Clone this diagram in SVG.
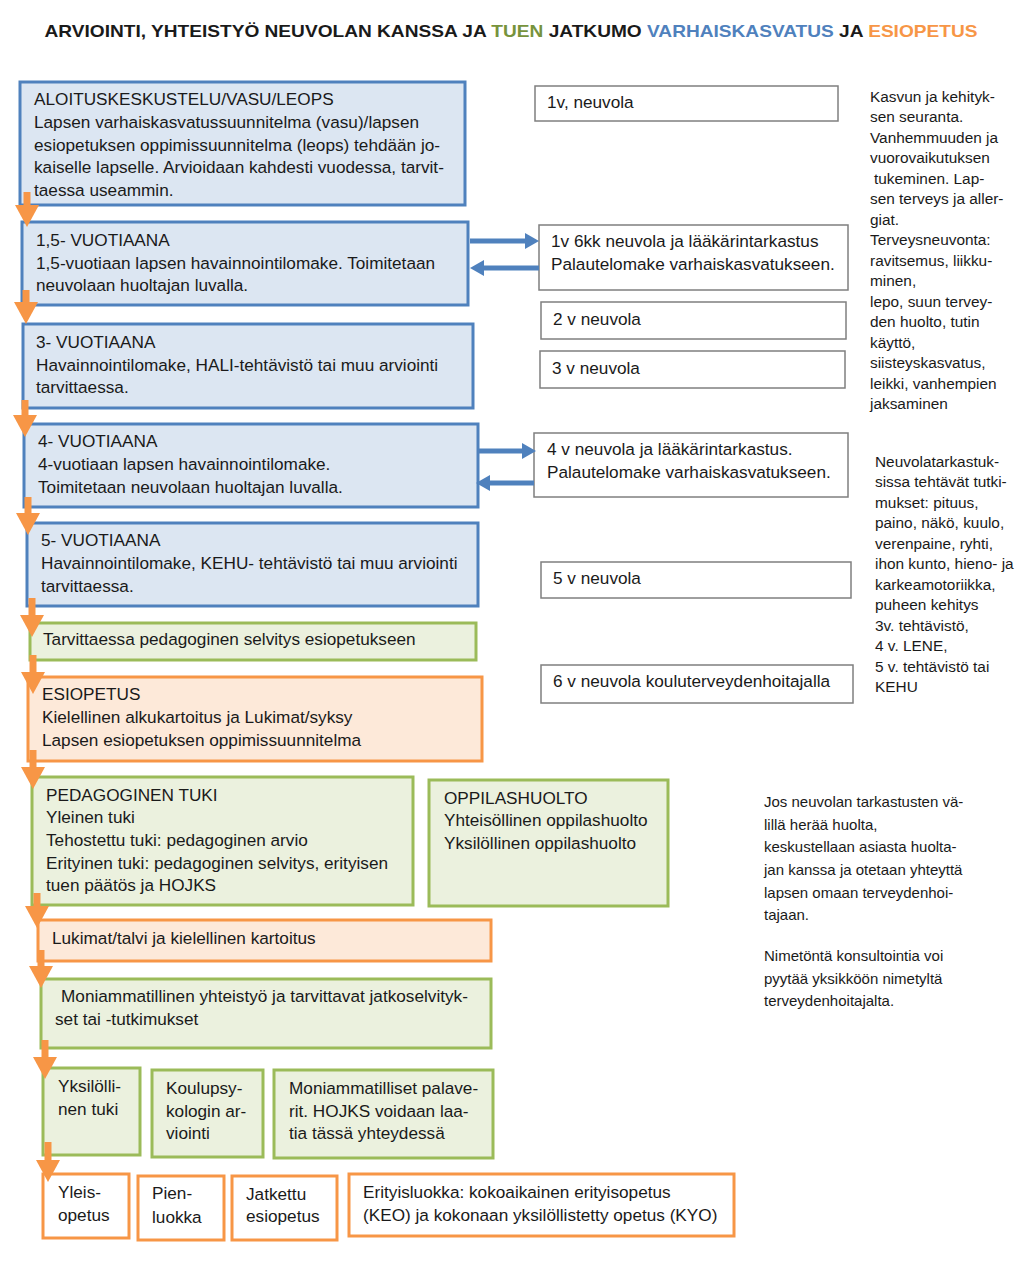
<svg xmlns="http://www.w3.org/2000/svg" width="1024" height="1280" viewBox="0 0 1024 1280">
<style>
text{font-family:"Liberation Sans",Arial,sans-serif;fill:#1a1a1a}
.t{font-size:17.2px}
.s{font-size:15.4px}
.m{font-size:15px}
.blue{fill:#dce6f2;stroke:#4f81bd;stroke-width:3}
.green{fill:#ebf1de;stroke:#9bbb59;stroke-width:3}
.orange{fill:#fde9d9;stroke:#f79646;stroke-width:3}
.orw{fill:#fff;stroke:#f79646;stroke-width:3}
.gray{fill:#fff;stroke:#7f7f7f;stroke-width:1.5}
.oa{stroke:#f79646;stroke-width:7;fill:none}
.ba{stroke:#4f81bd;stroke-width:5;fill:none}
</style>
<defs>
<marker id="oh" viewBox="0 0 22 24" refX="0" refY="12" markerWidth="22" markerHeight="24" markerUnits="userSpaceOnUse" orient="auto"><path d="M0,0 L22,12 L0,24 z" fill="#f79646"/></marker>
<marker id="bh" viewBox="0 0 14 16" refX="0" refY="8" markerWidth="14" markerHeight="16" markerUnits="userSpaceOnUse" orient="auto"><path d="M0,0 L14,8 L0,16 z" fill="#4f81bd"/></marker>
</defs>
<rect width="1024" height="1280" fill="#fff"/>
<text x="511" y="37" text-anchor="middle" font-size="17" font-weight="bold" textLength="933" lengthAdjust="spacingAndGlyphs">ARVIOINTI, YHTEISTYÖ NEUVOLAN KANSSA JA <tspan fill="#77933c">TUEN</tspan> JATKUMO <tspan fill="#4f81bd">VARHAISKASVATUS</tspan> JA <tspan fill="#f79646">ESIOPETUS</tspan></text>

<g id="n-aloitus"><rect class="blue" x="20" y="82" width="445" height="123"/>
<text class="t" x="34"><tspan x="34" y="105">ALOITUSKESKUSTELU/VASU/LEOPS</tspan><tspan x="34" y="128">Lapsen varhaiskasvatussuunnitelma (vasu)/lapsen</tspan><tspan x="34" y="151">esiopetuksen oppimissuunnitelma (leops) tehdään jo-</tspan><tspan x="34" y="173">kaiselle lapselle. Arvioidaan kahdesti vuodessa, tarvit-</tspan><tspan x="34" y="196">taessa useammin.</tspan></text></g>
<g id="n-15v"><rect class="blue" x="22" y="222" width="446" height="83"/>
<text class="t"><tspan x="36" y="246">1,5- VUOTIAANA</tspan><tspan x="36" y="269">1,5-vuotiaan lapsen havainnointilomake. Toimitetaan</tspan><tspan x="36" y="291">neuvolaan huoltajan luvalla.</tspan></text></g>
<g id="n-3v"><rect class="blue" x="23" y="324" width="450" height="84"/>
<text class="t"><tspan x="36" y="348">3- VUOTIAANA</tspan><tspan x="36" y="371">Havainnointilomake, HALI-tehtävistö tai muu arviointi</tspan><tspan x="36" y="393">tarvittaessa.</tspan></text></g>
<g id="n-4v"><rect class="blue" x="24" y="424" width="454" height="83"/>
<text class="t"><tspan x="38" y="447">4- VUOTIAANA</tspan><tspan x="38" y="470">4-vuotiaan lapsen havainnointilomake.</tspan><tspan x="38" y="493">Toimitetaan neuvolaan huoltajan luvalla.</tspan></text></g>
<g id="n-5v"><rect class="blue" x="27" y="523" width="451" height="83"/>
<text class="t"><tspan x="41" y="546">5- VUOTIAANA</tspan><tspan x="41" y="569">Havainnointilomake, KEHU- tehtävistö tai muu arviointi</tspan><tspan x="41" y="592">tarvittaessa.</tspan></text></g>
<g id="n-tarv"><rect class="green" x="30" y="623" width="446" height="37"/>
<text class="t" x="43" y="645">Tarvittaessa pedagoginen selvitys esiopetukseen</text></g>
<g id="n-esiop"><rect class="orange" x="28" y="677" width="454" height="84"/>
<text class="t"><tspan x="42" y="700">ESIOPETUS</tspan><tspan x="42" y="723">Kielellinen alkukartoitus ja Lukimat/syksy</tspan><tspan x="42" y="746">Lapsen esiopetuksen oppimissuunnitelma</tspan></text></g>
<g id="n-pedtuki"><rect class="green" x="32" y="777" width="381" height="128"/>
<text class="t"><tspan x="46" y="801">PEDAGOGINEN TUKI</tspan><tspan x="46" y="823">Yleinen tuki</tspan><tspan x="46" y="846">Tehostettu tuki: pedagoginen arvio</tspan><tspan x="46" y="869">Erityinen tuki: pedagoginen selvitys, erityisen</tspan><tspan x="46" y="891">tuen päätös ja HOJKS</tspan></text></g>
<g id="n-oppilashuolto"><rect class="green" x="429" y="780" width="239" height="126"/>
<text class="t"><tspan x="444" y="804">OPPILASHUOLTO</tspan><tspan x="444" y="826">Yhteisöllinen oppilashuolto</tspan><tspan x="444" y="849">Yksilöllinen oppilashuolto</tspan></text></g>
<g id="n-lukimat"><rect class="orange" x="38" y="920" width="453" height="41"/>
<text class="t" x="52" y="944">Lukimat/talvi ja kielellinen kartoitus</text></g>
<g id="n-moniamm"><rect class="green" x="41" y="979" width="450" height="69"/>
<text class="t"><tspan x="61" y="1002">Moniammatillinen yhteistyö ja tarvittavat jatkoselvityk-</tspan><tspan x="55" y="1025">set tai -tutkimukset</tspan></text></g>
<g id="n-yksil"><rect class="green" x="43" y="1068" width="97" height="87"/>
<text class="t"><tspan x="58" y="1092">Yksilölli-</tspan><tspan x="58" y="1115">nen tuki</tspan></text></g>
<g id="n-koulupsy"><rect class="green" x="152" y="1070" width="111" height="87"/>
<text class="t"><tspan x="166" y="1094">Koulupsy-</tspan><tspan x="166" y="1117">kologin ar-</tspan><tspan x="166" y="1139">viointi</tspan></text></g>
<g id="n-palaverit"><rect class="green" x="274" y="1070" width="219" height="88"/>
<text class="t"><tspan x="289" y="1094">Moniammatilliset palave-</tspan><tspan x="289" y="1117">rit. HOJKS voidaan laa-</tspan><tspan x="289" y="1139">tia tässä yhteydessä</tspan></text></g>
<g id="n-yleis"><rect class="orw" x="43" y="1174" width="86" height="64"/>
<text class="t"><tspan x="58" y="1198">Yleis-</tspan><tspan x="58" y="1221">opetus</tspan></text></g>
<g id="n-pien"><rect class="orw" x="138" y="1176" width="86" height="64"/>
<text class="t"><tspan x="152" y="1199">Pien-</tspan><tspan x="152" y="1223">luokka</tspan></text></g>
<g id="n-jatkettu"><rect class="orw" x="232" y="1176" width="105" height="64"/>
<text class="t"><tspan x="246" y="1200">Jatkettu</tspan><tspan x="246" y="1222">esiopetus</tspan></text></g>
<g id="n-erityis"><rect class="orw" x="349" y="1174" width="385" height="62"/>
<text class="t"><tspan x="363" y="1198">Erityisluokka: kokoaikainen erityisopetus</tspan><tspan x="363" y="1221">(KEO) ja kokonaan yksilöllistetty opetus (KYO)</tspan></text></g>

<g id="n-1v"><rect class="gray" x="535" y="86" width="303" height="35"/>
<text class="t" x="547" y="108">1v, neuvola</text></g>
<g id="n-1v6kk"><rect class="gray" x="539" y="225" width="309" height="65"/>
<text class="t"><tspan x="551" y="247">1v 6kk neuvola ja lääkärintarkastus</tspan><tspan x="551" y="270">Palautelomake varhaiskasvatukseen.</tspan></text></g>
<g id="n-2v"><rect class="gray" x="541" y="302" width="305" height="37"/>
<text class="t" x="553" y="325">2 v neuvola</text></g>
<g id="n-3vn"><rect class="gray" x="540" y="351" width="305" height="37"/>
<text class="t" x="552" y="374">3 v neuvola</text></g>
<g id="n-4vn"><rect class="gray" x="534" y="433" width="314" height="64"/>
<text class="t"><tspan x="547" y="455">4 v neuvola ja lääkärintarkastus.</tspan><tspan x="547" y="478">Palautelomake varhaiskasvatukseen.</tspan></text></g>
<g id="n-5vn"><rect class="gray" x="541" y="562" width="310" height="36"/>
<text class="t" x="553" y="584">5 v neuvola</text></g>
<g id="n-6vn"><rect class="gray" x="541" y="665" width="312" height="38"/>
<text class="t" x="553" y="687">6 v neuvola kouluterveydenhoitajalla</text></g>

<g id="note-kasvu"><text class="s"><tspan x="870" y="102">Kasvun ja kehityk-</tspan><tspan x="870" y="122">sen seuranta.</tspan><tspan x="870" y="143">Vanhemmuuden ja</tspan><tspan x="870" y="163">vuorovaikutuksen</tspan><tspan x="874" y="184">tukeminen. Lap-</tspan><tspan x="870" y="204">sen terveys ja aller-</tspan><tspan x="870" y="225">giat.</tspan><tspan x="870" y="245">Terveysneuvonta:</tspan><tspan x="870" y="266">ravitsemus, liikku-</tspan><tspan x="870" y="286">minen,</tspan><tspan x="870" y="307">lepo, suun tervey-</tspan><tspan x="870" y="327">den huolto, tutin</tspan><tspan x="870" y="348">käyttö,</tspan><tspan x="870" y="368">siisteyskasvatus,</tspan><tspan x="870" y="389">leikki, vanhempien</tspan><tspan x="870" y="409">jaksaminen</tspan></text></g>
<g id="note-tarkastukset"><text class="s"><tspan x="875" y="467">Neuvolatarkastuk-</tspan><tspan x="875" y="487">sissa tehtävät tutki-</tspan><tspan x="875" y="508">mukset: pituus,</tspan><tspan x="875" y="528">paino, näkö, kuulo,</tspan><tspan x="875" y="549">verenpaine, ryhti,</tspan><tspan x="875" y="569">ihon kunto, hieno- ja</tspan><tspan x="875" y="590">karkeamotoriikka,</tspan><tspan x="875" y="610">puheen kehitys</tspan><tspan x="875" y="631">3v. tehtävistö,</tspan><tspan x="875" y="651">4 v. LENE,</tspan><tspan x="875" y="672">5 v. tehtävistö tai</tspan><tspan x="875" y="692">KEHU</tspan></text></g>
<g id="note-huoli"><text class="m"><tspan x="764" y="807">Jos neuvolan tarkastusten vä-</tspan><tspan x="764" y="830">lillä herää huolta,</tspan><tspan x="764" y="852">keskustellaan asiasta huolta-</tspan><tspan x="764" y="875">jan kanssa ja otetaan yhteyttä</tspan><tspan x="764" y="898">lapsen omaan terveydenhoi-</tspan><tspan x="764" y="920">tajaan.</tspan><tspan x="764" y="961">Nimetöntä konsultointia voi</tspan><tspan x="764" y="984">pyytää yksikköön nimetyltä</tspan><tspan x="764" y="1006">terveydenhoitajalta.</tspan></text></g>

<g id="connectors">
<line class="oa" x1="27" y1="192" x2="27" y2="205" marker-end="url(#oh)"/>
<line class="oa" x1="26" y1="290" x2="26" y2="302" marker-end="url(#oh)"/>
<line class="oa" x1="25" y1="400" x2="25" y2="415" marker-end="url(#oh)"/>
<line class="oa" x1="28" y1="497" x2="28" y2="513" marker-end="url(#oh)"/>
<line class="oa" x1="32" y1="598" x2="32" y2="615" marker-end="url(#oh)"/>
<line class="oa" x1="33" y1="655" x2="33" y2="672" marker-end="url(#oh)"/>
<line class="oa" x1="33" y1="750" x2="33" y2="767" marker-end="url(#oh)"/>
<line class="oa" x1="37" y1="893" x2="37" y2="906" marker-end="url(#oh)"/>
<line class="oa" x1="41" y1="950" x2="41" y2="966" marker-end="url(#oh)"/>
<line class="oa" x1="45" y1="1040" x2="45" y2="1057" marker-end="url(#oh)"/>
<line class="oa" x1="48" y1="1142" x2="48" y2="1160" marker-end="url(#oh)"/>
<line class="ba" x1="470" y1="241" x2="525" y2="241" marker-end="url(#bh)"/>
<line class="ba" x1="539" y1="268" x2="484" y2="268" marker-end="url(#bh)"/>
<line class="ba" x1="479" y1="451" x2="522" y2="451" marker-end="url(#bh)"/>
<line class="ba" x1="534" y1="483" x2="490" y2="483" marker-end="url(#bh)"/>
</g>
</svg>
